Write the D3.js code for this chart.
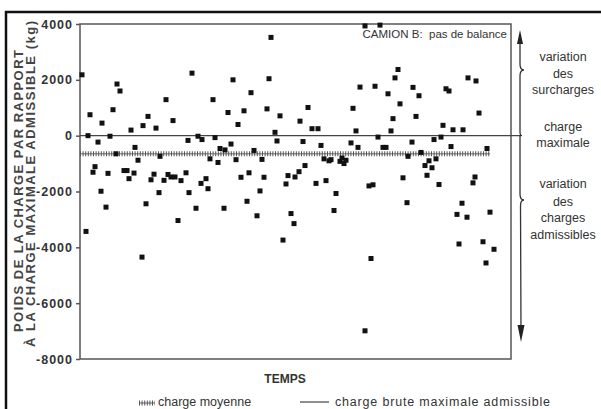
<!DOCTYPE html>
<html>
<head>
<meta charset="utf-8">
<script src="https://cdn.jsdelivr.net/npm/d3@7"></script>
<style>
  body { margin: 0; background: #fff; }
  svg { display: block; font-family: "Liberation Sans", Arial, Helvetica, sans-serif; }
</style>
</head>
<body>
<div id="chart"></div>
<script>
var width = 601;
var height = 409;

// Time position of each weighing (arbitrary time units) and load difference (kg)
var temps = [
  2, 10, 8, 18, 37, 40, 33, 22, 30, 36, 15, 13, 28, 21, 26, 6, 51, 55, 58, 63,
  68, 76, 86, 93, 44, 47, 49, 54, 71, 74, 80, 79, 66, 62, 98, 84, 88, 91, 95, 101,
  106, 108, 109,
  191, 112, 153, 189, 171, 133, 148, 164, 187, 200, 158, 195, 197, 118, 122, 135, 140, 145, 151, 130,
  138, 156, 174, 182, 121, 126, 128, 116, 144, 161, 169, 184, 180, 167, 177, 208, 206, 215, 211, 214,
  203,
  285, 300, 318, 315, 280, 295, 308, 320, 228, 273, 220, 232, 238, 313, 276, 311, 223, 241, 271, 278,
  298, 303, 306, 244, 249, 251, 260, 264, 266, 262, 225, 219, 236, 246, 256, 254, 289, 293, 291, 285,
  323,
  388, 396, 333, 339, 366, 369, 336, 399, 363, 373, 383, 332, 354, 361, 371, 407, 328, 341, 345, 349,
  352, 356, 347, 359, 395, 393, 327, 382, 377, 387, 410, 379, 403, 414, 406
];
var ecart = [
  2180, 750, 0, -230, 1850, 1600, 930, 450, -20, -650, -1110, -1310, -1350, -1990, -2560, -3430, 200, -420, -880, 360,
  690, 270, 1290, 540, -1250, -1250, -1540, -1340, -1580, -1380, -740, -2040, -2440, -4350, -3040, -1600, -1390, -1480, -1480, -1610,
  -1330, -170, -2040,
  3520, 2240, 2000, 2040, 1540, 1290, 830, 890, 960, 710, 400, 120, -190, -20, -140, -70, -460, -510, -300, -830,
  -960, -860, -530, -850, -1710, -1540, -1900, -2600, -2600, -1490, -1330, -1490, -1980, -2350, -2870, -1430, -1730, -1480, -2790, -3150,
  -3740,
  3930, 3960, 2370, 2070, 1740, 1770, 1500, 1140, 1010, 980, 520, 250, 250, 610, 170, 170, -210, -350, -260, -420,
  -50, -420, -420, -830, -900, -860, -920, -1000, -880, -800, -1070, -1290, -1710, -1610, -2070, -2680, -1800, -1760, -4400, -6990,
  -1510,
  2070, 1960, 1730, 1430, 1680, 1600, 690, 810, 370, 210, 210, -230, -140, -50, -390, -460, -740, -600, -1070, -900,
  -1150, -830, -1420, -1750, -1480, -1690, -2400, -2420, -2820, -2920, -2740, -3880, -3800, -4070, -4560
];

var yTicks = [4000, 2000, 0, -2000, -4000, -6000, -8000];
var chargeMoyenne = -650;
var chargeMaximale = 0;
var finMoyenne = 410;

var titreY = ["POIDS DE LA CHARGE PAR RAPPORT", "À LA CHARGE MAXIMALE ADMISSIBLE (kg)"];
var notesHaut = ["variation", "des", "surcharges"];
var notesMilieu = ["charge", "maximale"];
var notesBas = ["variation", "des", "charges", "admissibles"];

// Plot box
var plot = { left: 80, top: 24, right: 511, bottom: 359 };

var x = d3.scaleLinear().domain([0, 431]).range([plot.left, plot.right]);
var y = d3.scaleLinear().domain([-8000, 4000]).range([plot.bottom, plot.top]);

var svg = d3.select("#chart").append("svg")
    .attr("width", width)
    .attr("height", height);

// Outer frame of the figure
svg.append("rect")
    .attr("x", 6).attr("y", 12)
    .attr("width", 600).attr("height", 405)
    .attr("fill", "none")
    .attr("stroke", "#111")
    .attr("stroke-width", 2.5);

// Plot box
svg.append("rect")
    .attr("x", plot.left).attr("y", plot.top)
    .attr("width", plot.right - plot.left).attr("height", plot.bottom - plot.top)
    .attr("fill", "none")
    .attr("stroke", "#555")
    .attr("stroke-width", 1.5);

// Y axis
var yAxis = svg.append("g")
    .attr("transform", "translate(" + plot.left + ",0)")
    .call(d3.axisLeft(y).tickValues(yTicks).tickFormat(d => String(d))
      .tickSize(4).tickSizeOuter(0).tickPadding(3));
yAxis.select(".domain").remove();
yAxis.selectAll(".tick line").attr("stroke", "#555").attr("stroke-width", 1.5);
yAxis.selectAll(".tick text")
    .attr("fill", "#333")
    .style("font-size", "12.5px")
    .style("font-weight", "bold")
    .style("letter-spacing", "1px")
    .style("font-family", "'Liberation Sans', Arial, sans-serif");

// Y axis title, two rotated lines
var titrePos = [{ x: 23, cy: 191, len: 282 }, { x: 35, cy: 184, len: 326 }];
svg.selectAll("text.titre-y")
  .data(titreY)
  .enter()
  .append("text")
    .attr("class", "titre-y")
    .attr("transform", (d, i) => "translate(" + titrePos[i].x + "," + titrePos[i].cy + ") rotate(-90)")
    .attr("text-anchor", "middle")
    .attr("textLength", (d, i) => titrePos[i].len)
    .attr("lengthAdjust", "spacing")
    .attr("fill", "#444")
    .style("font-size", "13px")
    .style("font-weight", "bold")
    .text(d => d);

// Maximum load line, extended to the brace on the right
svg.append("line")
    .attr("x1", plot.left).attr("x2", 521)
    .attr("y1", y(chargeMaximale)).attr("y2", y(chargeMaximale))
    .attr("stroke", "#444")
    .attr("stroke-width", 1.3);

// Mean load: hatched line
function hatched(sel, x1, x2, yy) {
  sel.append("line")
      .attr("x1", x1).attr("x2", x2)
      .attr("y1", yy).attr("y2", yy)
      .attr("stroke", "#666")
      .attr("stroke-width", 1);
  sel.append("line")
      .attr("x1", x1).attr("x2", x2)
      .attr("y1", yy).attr("y2", yy)
      .attr("stroke", "#555")
      .attr("stroke-width", 5)
      .attr("stroke-dasharray", "1,1.6");
}
hatched(svg.append("g"), x(0), x(finMoyenne), y(chargeMoyenne));

// Points
svg.selectAll("rect.point")
  .data(temps.map((t, i) => ({ t: t, v: ecart[i] })))
  .enter()
  .append("rect")
    .attr("class", "point")
    .attr("x", d => x(d.t) - 2.5)
    .attr("y", d => y(d.v) - 2.5)
    .attr("width", 5)
    .attr("height", 5)
    .attr("fill", "#111");

// Subtitle
svg.append("text")
    .attr("x", 507).attr("y", 38)
    .attr("text-anchor", "end")
    .attr("fill", "#333")
    .style("font-size", "11.5px")
    .style("white-space", "pre")
    .text("CAMION B:  pas de balance");

// Brace with arrows on the right
var bx = 520;
var brace = d3.path();
brace.moveTo(bx, 40);
brace.lineTo(bx, 64);
brace.quadraticCurveTo(bx, 70, bx + 4, 70);
brace.quadraticCurveTo(bx, 70, bx, 76);
brace.lineTo(bx, y(chargeMaximale) - 4);
brace.quadraticCurveTo(bx, y(chargeMaximale), bx + 2, y(chargeMaximale));
brace.moveTo(bx, y(chargeMaximale));
brace.lineTo(bx, 194);
brace.quadraticCurveTo(bx, 200, bx + 4, 200);
brace.quadraticCurveTo(bx + 0.5, 200, bx + 0.5, 206);
brace.lineTo(bx + 1, 330);
svg.append("path")
    .attr("d", brace.toString())
    .attr("fill", "none")
    .attr("stroke", "#333")
    .attr("stroke-width", 1.3);

svg.append("path")
    .attr("d", "M" + bx + ",30L" + (bx - 3) + ",44L" + (bx + 3) + ",44Z")
    .attr("fill", "#222");
svg.append("path")
    .attr("d", "M" + (bx + 1) + ",342L" + (bx - 2.5) + ",325L" + (bx + 4.5) + ",325Z")
    .attr("fill", "#222");

// Side notes
function notes(lines, baselines) {
  svg.append("g").selectAll("text")
    .data(lines)
    .enter()
    .append("text")
      .attr("x", 563)
      .attr("y", (d, i) => baselines[i])
      .attr("text-anchor", "middle")
      .attr("fill", "#333")
      .style("font-size", "12.5px")
      .text(d => d);
}
notes(notesHaut, [61, 78, 94]);
notes(notesMilieu, [131, 147]);
notes(notesBas, [188, 206, 222, 239]);

// X axis title
svg.append("text")
    .attr("x", 285).attr("y", 383)
    .attr("text-anchor", "middle")
    .attr("fill", "#333")
    .style("font-size", "12px")
    .style("font-weight", "bold")
    .text("TEMPS");

// Legend
hatched(svg.append("g"), 139, 155, 403);
svg.append("text")
    .attr("x", 158).attr("y", 406)
    .attr("fill", "#333")
    .style("font-size", "12.5px")
    .text("charge moyenne");

svg.append("line")
    .attr("x1", 300).attr("x2", 329)
    .attr("y1", 402).attr("y2", 402)
    .attr("stroke", "#444")
    .attr("stroke-width", 1.2);
svg.append("text")
    .attr("x", 335).attr("y", 406)
    .attr("fill", "#333")
    .style("font-size", "12.5px")
    .attr("textLength", 215)
    .attr("lengthAdjust", "spacing")
    .text("charge brute maximale admissible");
</script>
</body>
</html>
